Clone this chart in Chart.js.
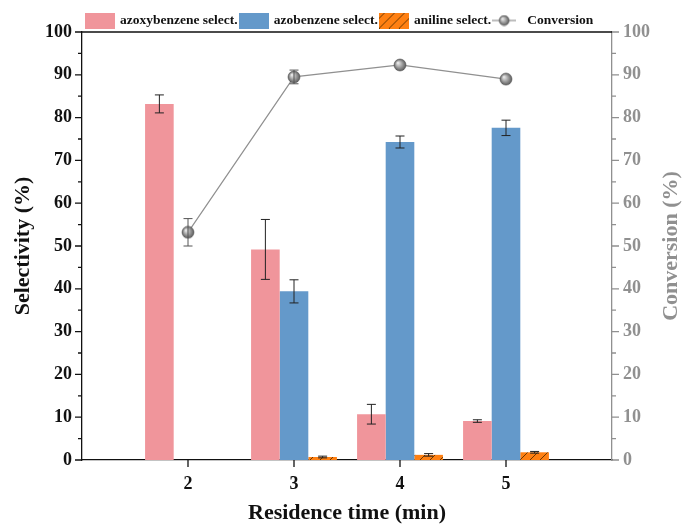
<!DOCTYPE html>
<html>
<head>
<meta charset="utf-8">
<script src="https://cdn.jsdelivr.net/npm/chart.js@4.4.0/dist/chart.umd.min.js"></script>
<style>
  html, body { margin: 0; padding: 0; background: #fff; }
</style>
</head>
<body>
<canvas id="chart" width="683" height="524"></canvas>
<script>
const times = [2, 3, 4, 5];
const azoxySel = [83.2, 49.2, 10.7, 9.1];
const azoxyErr = [2.1, 7.0, 2.3, 0.3];
const azoSel = [null, 39.4, 74.3, 77.6];
const azoErr = [null, 2.7, 1.4, 1.8];
const anilineSel = [null, 0.7, 1.2, 1.8];
const anilineErr = [null, 0.2, 0.3, 0.2];
const conversion = [53.2, 89.5, 92.3, 89.0];
const conversionErr = [3.2, 1.6, 0, 0];

const serif = '"Liberation Serif", "Times New Roman", serif';
const pink = '#F0959B';
const blue = '#6499CA';
const orange = '#FF8012';
const grey = '#909090';

// hatched orange fill
function hatch() {
    const c = document.createElement('canvas');
    c.width = 10; c.height = 10;
    const g = c.getContext('2d');
    g.fillStyle = orange;
    g.fillRect(0, 0, 10, 10);
    g.strokeStyle = '#5a3000';
    g.lineWidth = 0.9;
    g.beginPath();
    g.moveTo(-1, 11); g.lineTo(11, -1);
    g.stroke();
    return document.getElementById('chart').getContext('2d').createPattern(c, 'repeat');
}
const orangeFill = hatch();

function sphere(r) {
    const c = document.createElement('canvas');
    c.width = r * 2 + 2; c.height = r * 2 + 2;
    const g = c.getContext('2d');
    const cx = r + 1, cy = r + 1;
    const grad = g.createRadialGradient(cx - r * 0.35, cy - r * 0.35, 0.5, cx, cy, r);
    grad.addColorStop(0, '#e8e8e8');
    grad.addColorStop(1, '#5c5c5c');
    g.fillStyle = grad;
    g.beginPath(); g.arc(cx, cy, r, 0, Math.PI * 2); g.fill();
    g.strokeStyle = '#555'; g.lineWidth = 0.6; g.stroke();
    return c;
}
const markerImg = sphere(6);

function box(fill) {
    const c = document.createElement('canvas');
    c.width = 30; c.height = 16;
    const g = c.getContext('2d');
    g.fillStyle = fill;
    g.fillRect(0, 0, 30, 16);
    return c;
}
function lineKey() {
    const c = document.createElement('canvas');
    c.width = 24; c.height = 12;
    const g = c.getContext('2d');
    g.strokeStyle = grey; g.lineWidth = 1.2;
    g.beginPath(); g.moveTo(0, 6); g.lineTo(24, 6); g.stroke();
    const s = sphere(5);
    g.drawImage(s, 12 - s.width / 2, 6 - s.height / 2);
    return c;
}
const hatchBox = (() => {
    const c = document.createElement('canvas');
    c.width = 30; c.height = 16;
    const g = c.getContext('2d');
    g.fillStyle = orange; g.fillRect(0, 0, 30, 16);
    g.strokeStyle = '#5a3000'; g.lineWidth = 0.9;
    for (let k = -10; k < 40; k += 10) {
        g.beginPath(); g.moveTo(k, 16); g.lineTo(k + 16, 0); g.stroke();
    }
    return c;
})();
const legendImgs = [box(pink), box(blue), hatchBox, lineKey()];

const pts = vals => times.map((t, i) => ({ x: t, y: vals[i] }));
const errs = [azoxyErr, azoErr, anilineErr, conversionErr];

const errorBars = {
    id: 'errorBars',
    afterDatasetsDraw(chart) {
        const ctx = chart.ctx;
        ctx.save();
        chart.data.datasets.forEach((ds, i) => {
            const meta = chart.getDatasetMeta(i);
            const yScale = chart.scales[meta.yAxisID];
            meta.data.forEach((el, j) => {
                const v = ds.data[j].y, e = errs[i][j];
                if (v == null || !e) return;
                const top = yScale.getPixelForValue(v + e);
                const bot = yScale.getPixelForValue(v - e);
                ctx.strokeStyle = i === 3 ? '#555' : '#222';
                ctx.lineWidth = 1;
                ctx.beginPath();
                ctx.moveTo(el.x, top); ctx.lineTo(el.x, bot);
                ctx.moveTo(el.x - 4.5, top); ctx.lineTo(el.x + 4.5, top);
                ctx.moveTo(el.x - 4.5, bot); ctx.lineTo(el.x + 4.5, bot);
                ctx.stroke();
            });
        });
        ctx.restore();
    }
};

const frameAndLegend = {
    id: 'frameAndLegend',
    afterDraw(chart) {
        const ctx = chart.ctx;
        const { left, right, top, bottom } = chart.chartArea;
        const y = chart.scales.y, y2 = chart.scales.y2, x = chart.scales.x;
        ctx.save();
        ctx.lineWidth = 1.3;
        ctx.strokeStyle = '#111';
        ctx.beginPath();
        ctx.moveTo(left, top); ctx.lineTo(right, top);
        ctx.moveTo(left - 3, bottom); ctx.lineTo(left, bottom);
        for (let v = 0; v <= 100; v += 5) {
            const p = y.getPixelForValue(v);
            ctx.moveTo(left - (v % 10 === 0 ? 7 : 4), p); ctx.lineTo(left, p);
        }
        times.forEach(t => {
            const p = x.getPixelForValue(t);
            ctx.moveTo(p, bottom); ctx.lineTo(p, bottom + 7);
        });
        ctx.stroke();
        ctx.strokeStyle = grey;
        ctx.beginPath();
        for (let v = 0; v <= 100; v += 5) {
            const p = y2.getPixelForValue(v);
            ctx.moveTo(right, p); ctx.lineTo(right + (v % 10 === 0 ? 7 : 4), p);
        }
        ctx.stroke();

        // legend row above the frame
        ctx.font = 'bold 13.5px ' + serif;
        ctx.textBaseline = 'middle';
        ctx.fillStyle = '#111';
        let lx = 85;
        const ly = 20.5;
        chart.data.datasets.forEach((ds, i) => {
            const img = legendImgs[i];
            ctx.drawImage(img, lx, ly - img.height / 2);
            lx += img.width + (i === 3 ? 11 : 5);
            ctx.fillText(ds.label, lx, ly + 0.5);
            lx += ctx.measureText(ds.label).width + 1;
        });

        // right axis title reads bottom-to-top like the left one
        ctx.translate(671, (top + bottom) / 2);
        ctx.rotate(-Math.PI / 2);
        ctx.fillStyle = grey;
        ctx.font = 'bold 22px ' + serif;
        ctx.textAlign = 'center';
        ctx.fillText('Conversion (%)', 0, 0);
        ctx.restore();
    }
};

new Chart(document.getElementById('chart'), {
    type: 'bar',
    data: {
        datasets: [
            { label: 'azoxybenzene select.', data: pts(azoxySel), backgroundColor: pink, yAxisID: 'y', order: 1 },
            { label: 'azobenzene select.', data: pts(azoSel), backgroundColor: blue, yAxisID: 'y', order: 1 },
            { label: 'aniline select.', data: pts(anilineSel), backgroundColor: orangeFill, yAxisID: 'y', order: 1 },
            {
                type: 'line', label: 'Conversion', data: pts(conversion), yAxisID: 'y2', order: 0,
                borderColor: grey, borderWidth: 1.2, pointStyle: markerImg, pointRadius: 6
            }
        ]
    },
    options: {
        responsive: false,
        animation: false,
        categoryPercentage: 0.81,
        barPercentage: 1,
        layout: { padding: { left: 10, right: 0, top: 32, bottom: 0 } },
        plugins: {
            tooltip: { enabled: false },
            legend: { display: false }
        },
        scales: {
            x: {
                type: 'linear', min: 1, max: 6, offset: false,
                afterFit: s => { s.height = 64; },
                grid: { display: false, drawTicks: false },
                border: { display: true, color: '#111', width: 1.3 },
                ticks: {
                    stepSize: 1, padding: 14, color: '#111',
                    font: { family: serif, size: 18, weight: 'bold' },
                    callback: v => (v >= 2 && v <= 5 ? v : '')
                },
                title: { display: true, text: 'Residence time (min)', color: '#111', padding: { top: 0, bottom: -3 },
                         font: { family: serif, size: 22, weight: 'bold' } }
            },
            y: {
                position: 'left', min: 0, max: 100,
                afterFit: s => { s.width = 72; },
                grid: { display: false, drawTicks: false },
                border: { display: true, color: '#111', width: 1.3 },
                ticks: {
                    stepSize: 5, padding: 10, color: '#111',
                    font: { family: serif, size: 18, weight: 'bold' },
                    callback: v => (v % 10 === 0 ? v : '')
                },
                title: { display: true, text: 'Selectivity (%)', color: '#111', padding: 0,
                         font: { family: serif, size: 22, weight: 'bold' } }
            },
            y2: {
                position: 'right', min: 0, max: 100,
                afterFit: s => { s.width = 71; },
                grid: { display: false, drawTicks: false },
                border: { display: true, color: grey, width: 1.3 },
                ticks: {
                    stepSize: 5, padding: 11, color: grey,
                    font: { family: serif, size: 18, weight: 'bold' },
                    callback: v => (v % 10 === 0 ? v : '')
                },
                title: { display: false }
            }
        }
    },
    plugins: [errorBars, frameAndLegend]
});
</script>
</body>
</html>
